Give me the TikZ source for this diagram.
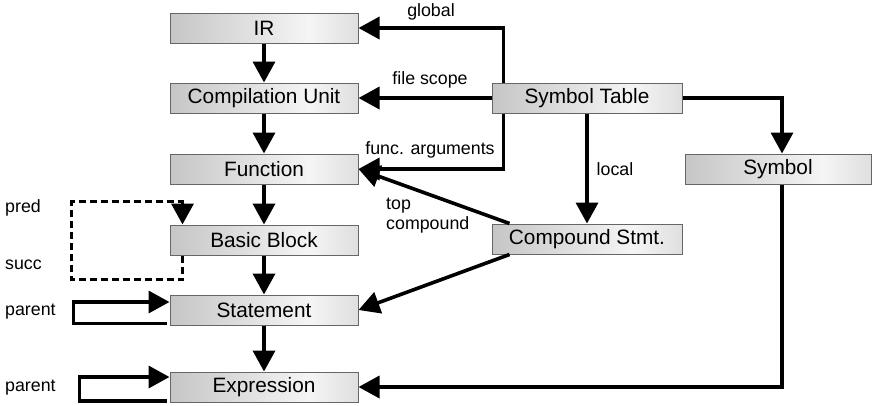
\documentclass[tikz,border=0pt]{standalone}
\usepackage{fontspec}
\setmainfont{Liberation Sans}
\usetikzlibrary{calc}
\usetikzlibrary{arrows.meta}

\pgfdeclarehorizontalshading{boxshade}{100bp}{color(0bp)=(gray!45); color(25bp)=(gray!45); color(62bp)=(gray!8); color(75bp)=(gray!25); color(100bp)=(gray!25)}

\begin{document}
\begin{tikzpicture} [x=1pt, y=-1pt,
  box/.style={draw=black!60, line width=1pt, shading=boxshade, minimum width=188pt, minimum height=30pt, inner sep=0pt, font=\fontsize{20.8}{24}\selectfont},
  lbl/.style={font=\fontsize{17.8}{20}\selectfont, inner sep=0pt},
  arr/.style={line width=3.6pt, -{Triangle[length=21pt,width=22pt]}}]
\useasboundingbox (0,0) rectangle (873,405);

\node[box] (ir) at (264,28) {IR};
\node[box] (cu) at (264,98) {Compilation Unit};
\node[box] (fn) at (264,169) {Function};
\node[box] (bb) at (264,240) {Basic Block};
\node[box] (stmt) at (264,310) {Statement};
\node[box] (expr) at (264,387) {Expression};
\node[box, minimum width=190pt] (symtab) at (587,98) {Symbol Table};
\node[box, minimum width=190pt] (comp) at (587,239) {Compound Stmt.};
\node[box, minimum width=186pt] (sym) at (778,169) {Symbol};

\foreach \a/\b in {ir/cu, cu/fn, fn/bb, bb/stmt, stmt/expr} {
 \draw[arr] (\a) -- (\b);
}

\draw[arr] ($(symtab.north west)+(12,0)$) |- (ir.east);
\draw[arr] (symtab.west) -- (cu.east);
\draw[arr] ($(symtab.south west)+(12,0)$) |- (fn.east);
\draw[arr] (symtab) -- (comp);
\draw[arr] (symtab.east) -| ([xshift=4pt]sym.north);
\draw[arr] ([xshift=4pt]sym.south) |- (expr.east);
\draw[arr] ($(comp.north west)+(18,0)$) -- (fn.east);
\draw[arr] ($(comp.south west)+(18,0)$) -- (stmt.east);

\draw[arr, dash pattern=on 7pt off 4pt] ($(bb.south west)+(13,0)$) -- ++(0,24) -- ++(-111,0) -- ++(0,-78) -- ++(111,0) -- ($(bb.north west)+(13,0)$);
\draw[arr] ($(stmt.south west)+(-3,-2)$) -- ++(-93,0) |- ($(stmt.west)+(0,-8)$);
\draw[arr] ($(expr.south west)+(-3,-1.8)$) -- ++(-87,0) |- ($(expr.west)+(0,-10)$);

\node[lbl] (lglobal) at (431,12) {global};
\node[lbl] (lfile) at (430,80) {file scope};
\node[lbl] (lfunc) at (430,150) {func. arguments};
\node[lbl, anchor=west, align=left] (ltop) at (386,216) {top\\compound};
\node[lbl] (llocal) at (615,169) {local};
\node[lbl, anchor=west] (lpred) at (5,208) {pred};
\node[lbl, anchor=west] (lsucc) at (5,265) {succ};
\node[lbl, anchor=west] (lpar1) at (5,312) {parent};
\node[lbl, anchor=west] (lpar2) at (5,388) {parent};
\end{tikzpicture}
\end{document}
